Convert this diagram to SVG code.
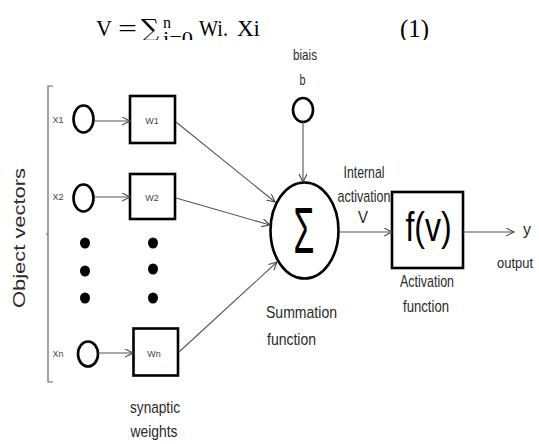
<svg xmlns="http://www.w3.org/2000/svg" width="539" height="444" viewBox="0 0 539 444">
<style>
.lbl{font-family:"Liberation Sans",Arial,sans-serif;font-size:17px;fill:#2a2a2a;text-anchor:middle}
.sm{font-family:"Liberation Sans",Arial,sans-serif;font-size:9px;fill:#444;text-anchor:middle}
.shape{fill:none;stroke:#000;stroke-width:2.6}
.conn{fill:none;stroke:#555;stroke-width:1.1}
.math{font-family:"Liberation Serif","DejaVu Serif",serif;font-size:24px;fill:#000}
</style>
<defs>
<marker id="arr" markerWidth="10" markerHeight="10" refX="8" refY="4" orient="auto" markerUnits="userSpaceOnUse">
<path d="M0,0 L8,4 L0,8" fill="none" stroke="#444" stroke-width="1.1"/>
</marker>
<clipPath id="fclip"><rect x="0" y="0" width="539" height="40"/></clipPath>
</defs>
<rect width="539" height="444" fill="#fff"/>

<g id="formula" clip-path="url(#fclip)">
<text class="math" x="96" y="36" textLength="16" lengthAdjust="spacingAndGlyphs">V</text>
<text class="math" x="118" y="36" textLength="19" lengthAdjust="spacingAndGlyphs">=</text>
<text class="math" x="141" y="37" style="font-family:'DejaVu Serif',serif;font-size:25px" textLength="18" lengthAdjust="spacingAndGlyphs">∑</text>
<text class="math" x="163" y="28" style="font-size:16px">n</text>
<text class="math" x="163" y="45" style="font-size:18px" textLength="30" lengthAdjust="spacingAndGlyphs">i=0</text>
<text class="math" x="199" y="36" textLength="29" lengthAdjust="spacingAndGlyphs">Wi.</text>
<text class="math" x="237" y="36" textLength="23" lengthAdjust="spacingAndGlyphs">Xi</text>
<text class="math" x="400" y="37" textLength="29" lengthAdjust="spacingAndGlyphs" style="font-size:25px">(1)</text>
</g>

<g id="object-vectors">
<path d="M53,86 H48 V382 H53 M48,234 H46" fill="none" stroke="#666" stroke-width="1.2"/>
<text class="lbl" transform="translate(25,238) rotate(-90)" textLength="140" lengthAdjust="spacingAndGlyphs" style="font-size:17px">Object vectors</text>
</g>

<g id="x1">
<text class="sm" x="58" y="123">X1</text>
<ellipse class="shape" cx="83.5" cy="119" rx="10" ry="13.5"/>
</g>
<g id="w1">
<rect class="shape" x="130" y="96" width="45" height="47"/>
<text class="sm" x="152" y="124">W1</text>
</g>
<g id="x2">
<text class="sm" x="58" y="200">X2</text>
<ellipse class="shape" cx="83.5" cy="198" rx="10" ry="13.5"/>
</g>
<g id="w2">
<rect class="shape" x="130" y="174" width="45" height="45"/>
<text class="sm" x="152" y="201">W2</text>
</g>
<g id="dots" fill="#000">
<ellipse cx="85" cy="243" rx="5" ry="5.5"/>
<ellipse cx="85" cy="271" rx="5" ry="5.5"/>
<ellipse cx="85" cy="298" rx="5" ry="5.5"/>
<ellipse cx="153" cy="243" rx="5" ry="5.5"/>
<ellipse cx="153" cy="269" rx="5" ry="5.5"/>
<ellipse cx="153" cy="298" rx="5" ry="5.5"/>
</g>
<g id="xn">
<text class="sm" x="58" y="357">Xn</text>
<ellipse class="shape" cx="88" cy="354" rx="10" ry="12.5"/>
</g>
<g id="wn">
<rect class="shape" x="133.5" y="328.5" width="44.5" height="47"/>
<text class="sm" x="154" y="357">Wn</text>
</g>
<g id="synaptic-weights">
<text class="lbl" x="155" y="413" textLength="50" lengthAdjust="spacingAndGlyphs">synaptic</text>
<text class="lbl" x="154" y="437" textLength="47" lengthAdjust="spacingAndGlyphs">weights</text>
</g>

<g id="bias">
<text class="lbl" x="305" y="60" textLength="24" lengthAdjust="spacingAndGlyphs" style="font-size:15px">biais</text>
<text class="lbl" x="302.5" y="85" style="font-size:15px" textLength="6" lengthAdjust="spacingAndGlyphs">b</text>
<ellipse class="shape" cx="303" cy="110" rx="10" ry="12"/>
</g>

<g id="summation">
<ellipse class="shape" cx="304.5" cy="230.5" rx="34" ry="48"/>
<text transform="translate(293.5,253) scale(1.05,2)" style="font-family:'Liberation Sans',Arial,sans-serif;font-size:32px;fill:#000">Σ</text>
<text class="lbl" x="266" y="318" style="text-anchor:start" textLength="71" lengthAdjust="spacingAndGlyphs">Summation</text>
<text class="lbl" x="267" y="345" style="text-anchor:start" textLength="49" lengthAdjust="spacingAndGlyphs">function</text>
</g>

<g id="internal-activation">
<text class="lbl" x="364" y="178" textLength="41" lengthAdjust="spacingAndGlyphs">Internal</text>
<text class="lbl" x="364" y="202" textLength="53" lengthAdjust="spacingAndGlyphs">activation</text>
<text class="lbl" x="363" y="223" textLength="10" lengthAdjust="spacingAndGlyphs">V</text>
</g>

<g id="activation">
<rect class="shape" x="392" y="192" width="71" height="76"/>
<text transform="translate(428.5,241) scale(1,1.25)" style="font-family:'Liberation Sans',Arial,sans-serif;font-size:32px;fill:#000;text-anchor:middle">f(v)</text>
<text class="lbl" x="427" y="287" textLength="54" lengthAdjust="spacingAndGlyphs">Activation</text>
<text class="lbl" x="426" y="312" textLength="46" lengthAdjust="spacingAndGlyphs">function</text>
</g>

<g id="output">
<text class="lbl" x="527" y="235" textLength="8" lengthAdjust="spacingAndGlyphs">y</text>
<text class="lbl" x="515" y="268" style="font-size:15px" textLength="36" lengthAdjust="spacingAndGlyphs">output</text>
</g>

<g id="connectors">
<line class="conn" x1="94" y1="121" x2="130" y2="121" marker-end="url(#arr)"/>
<line class="conn" x1="94" y1="197" x2="130" y2="197" marker-end="url(#arr)"/>
<line class="conn" x1="98" y1="353" x2="133" y2="353" marker-end="url(#arr)"/>
<line class="conn" x1="176" y1="122" x2="275" y2="202" marker-end="url(#arr)"/>
<line class="conn" x1="176" y1="198" x2="270" y2="225" marker-end="url(#arr)"/>
<line class="conn" x1="179" y1="352" x2="277" y2="262" marker-end="url(#arr)"/>
<line class="conn" x1="303" y1="122" x2="303" y2="182" marker-end="url(#arr)"/>
<line class="conn" x1="339" y1="232" x2="392" y2="232" marker-end="url(#arr)"/>
<line class="conn" x1="463" y1="232" x2="514" y2="232" marker-end="url(#arr)"/>
</g>
</svg>
